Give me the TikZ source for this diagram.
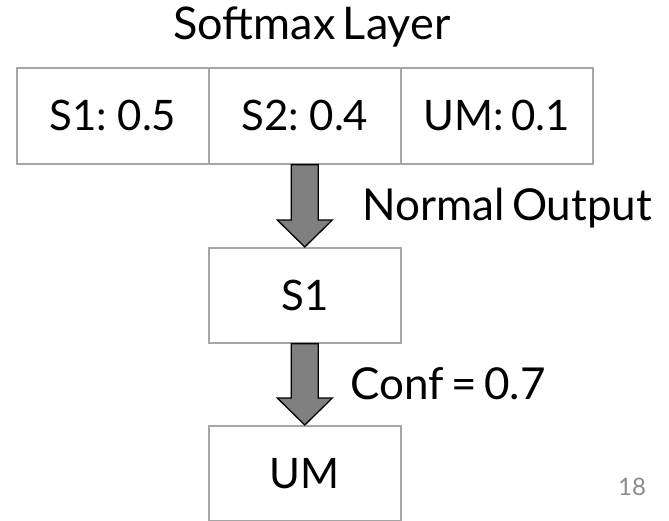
\documentclass[tikz,border=0pt]{standalone}
\usepackage{fontspec}
\setmainfont{Lato}
\usetikzlibrary{calc}

\definecolor{boxgray}{HTML}{A6A6A6}
\definecolor{arrowgray}{HTML}{808080}
\definecolor{numgray}{HTML}{8C8C8C}

% tighter word spacing for the large labels
\newcommand\tightspace{\spaceskip=0.17em\relax}

\tikzset{
  bigtext/.style={font=\fontsize{42}{48}\selectfont\tightspace, text=black},
  labeltext/.style={font=\fontsize{44}{50}\selectfont\tightspace, text=black},
  cell/.style={bigtext, draw=boxgray, line width=1.6pt, minimum width=192pt,
    minimum height=96pt, inner sep=0pt, anchor=north west},
  outbox/.style={cell, minimum height=95pt},
  label/.style={labeltext, inner sep=0pt, anchor=base west},
  blockarrow/.style={fill=arrowgray, draw=black, line width=1.3pt, line join=miter},
}

% thick block arrow from the bottom of one node to the top of another
\newcommand\blockarrow[2]{%
  \draw[blockarrow] let \p1=(#1.south), \p2=(#2.north) in
    (\x1-13.5pt,\y1) -- (\x1+13.5pt,\y1) -- (\x1+13.5pt,\y2+27pt)
    -- (\x1+27.5pt,\y2+27pt) -- (\x1,\y2) -- (\x1-27.5pt,\y2+27pt)
    -- (\x1-13.5pt,\y2+27pt) -- cycle;}

\begin{document}
\begin{tikzpicture}[x=1pt,y=-1pt]
  \useasboundingbox (0,0) rectangle (669,520);

  % softmax layer
  \node[text=black, font=\fontsize{45}{52}\selectfont\tightspace, inner sep=0pt, anchor=base]
    (title) at (312,39) {Softmax Layer};
  \node[cell] (c1) at (16,67)  {S1: 0.5};
  \node[cell] (c2) at (208,67) {S2: 0.4};
  \node[cell] (c3) at (400,67) {UM: 0.1};

  % outputs
  \node[outbox] (s1) at (208,247) {S1};
  \node[outbox] (um) at (208,425) {UM};

  % arrows and their labels
  \blockarrow{c2}{s1}
  \blockarrow{s1}{um}
  \node[label] (normal) at (362,220) {Normal Output};
  \node[label] (conf) at (350,399) {Conf = 0.7};

  % page number
  \node[inner sep=0pt, anchor=base west, text=numgray,
        font=\fontsize{24}{28}\selectfont] (page) at (618,495) {18};
\end{tikzpicture}
\end{document}
